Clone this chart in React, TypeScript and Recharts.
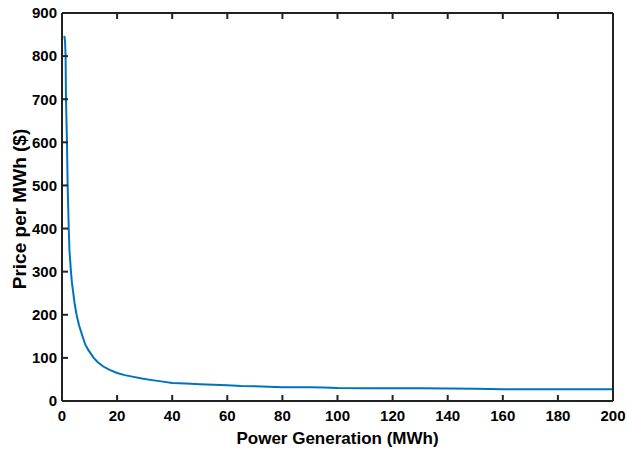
import React from 'react';
import { LineChart, Line, XAxis, YAxis } from 'recharts';

const generation: number[] = [0.85, 1.1, 1.3, 1.45, 1.8, 2.05, 2.25, 2.45, 2.7, 3.25, 3.6, 4.1, 4.6, 5.3, 6.2, 7.5, 8.5, 9.6, 11.5, 13, 15, 17.3, 20, 22.8, 26, 29, 32, 36, 40, 45, 50, 55, 60, 65, 70, 75, 80, 85, 90, 95, 100, 110, 120, 130, 140, 150, 160, 170, 180, 190, 200];
const price: number[] = [847, 835, 800, 700, 600, 500, 450, 400, 350, 300, 275, 250, 225, 200, 175, 149, 130, 118, 100, 90, 80, 72, 65, 60, 56, 52, 49, 45.5, 42, 40.5, 39, 37.5, 36.5, 35, 34.5, 33, 32, 32, 32, 31.5, 30, 29.5, 29.5, 29.5, 29, 28.5, 27.5, 27, 27, 27, 27];

const xTicks: number[] = [0, 20, 40, 60, 80, 100, 120, 140, 160, 180, 200];
const yTicks: number[] = [0, 100, 200, 300, 400, 500, 600, 700, 800, 900];

const data = generation.map((g, i) => ({ g, p: price[i] }));

const FONT = '"Liberation Sans", Arial, sans-serif';
const AX = '#222';
const TICK_LEN = 6;
const TICK_W = 2;
const MARGIN = 9;
const axisLine = { stroke: AX, strokeWidth: 2 };

const BottomTick = (props: any) => {
  const { x, y, payload } = props;
  const ay = y - MARGIN;
  return (
    <g>
      <path d={`M${x},${ay}L${x},${ay - TICK_LEN}`} stroke={AX} strokeWidth={TICK_W} fill="none" />
      <text x={x} y={y} dy="0.71em" textAnchor="middle" fill="#000" fontSize={15} fontWeight={700} fontFamily={FONT}>
        {payload.value}
      </text>
    </g>
  );
};

const LeftTick = (props: any) => {
  const { x, y, payload } = props;
  const ax = x + MARGIN - 4;
  return (
    <g>
      <path d={`M${ax},${y}L${ax + TICK_LEN},${y}`} stroke={AX} strokeWidth={TICK_W} fill="none" />
      <text x={x} y={y} dy="0.355em" textAnchor="end" fill="#000" fontSize={15} fontWeight={700} fontFamily={FONT}>
        {payload.value}
      </text>
    </g>
  );
};

const TopTick = (props: any) => {
  const { x, y } = props;
  return <path d={`M${x},${y}L${x},${y + TICK_LEN}`} stroke={AX} strokeWidth={TICK_W} fill="none" />;
};

const RightTick = (props: any) => {
  const { x, y } = props;
  return <path d={`M${x - TICK_LEN},${y}L${x},${y}`} stroke={AX} strokeWidth={TICK_W} fill="none" />;
};

export default function App() {
  return (
    <div style={{ position: 'absolute', left: 0, top: 0 }}>
      <LineChart width={627} height={450} data={data} margin={{ top: 12, right: 13, bottom: 4, left: 18 }}>
        <XAxis
          xAxisId="b"
          dataKey="g"
          type="number"
          domain={[0, 200]}
          ticks={xTicks}
          orientation="bottom"
          height={45}
          tickSize={0}
          tickMargin={MARGIN}
          tick={<BottomTick />}
          tickLine={false}
          axisLine={axisLine}
          label={{ value: 'Power Generation (MWh)', position: 'insideBottom', offset: 2, style: { fill: '#000', fontSize: 17, fontWeight: 700, fontFamily: FONT } }}
        />
        <XAxis
          xAxisId="t"
          dataKey="g"
          type="number"
          domain={[0, 200]}
          ticks={xTicks}
          orientation="top"
          height={1}
          tickSize={0}
          tickMargin={0}
          tick={<TopTick />}
          tickLine={false}
          axisLine={axisLine}
        />
        <YAxis
          yAxisId="l"
          type="number"
          domain={[0, 900]}
          ticks={yTicks}
          orientation="left"
          width={44}
          tickSize={0}
          tickMargin={MARGIN - 4}
          tick={<LeftTick />}
          tickLine={false}
          axisLine={axisLine}
          label={{ value: 'Price per MWh ($)', angle: -90, position: 'center', dx: -21, dy: 2, style: { fill: '#000', fontSize: 19, fontWeight: 700, fontFamily: FONT, textAnchor: 'middle' } }}
        />
        <YAxis
          yAxisId="r"
          type="number"
          domain={[0, 900]}
          ticks={yTicks}
          orientation="right"
          width={1}
          tickSize={0}
          tickMargin={0}
          tick={<RightTick />}
          tickLine={false}
          axisLine={axisLine}
        />
        <Line
          xAxisId="b"
          yAxisId="l"
          type="linear"
          dataKey="p"
          stroke="#0072BD"
          strokeWidth={2}
          dot={false}
          isAnimationActive={false}
        />
      </LineChart>
    </div>
  );
}
